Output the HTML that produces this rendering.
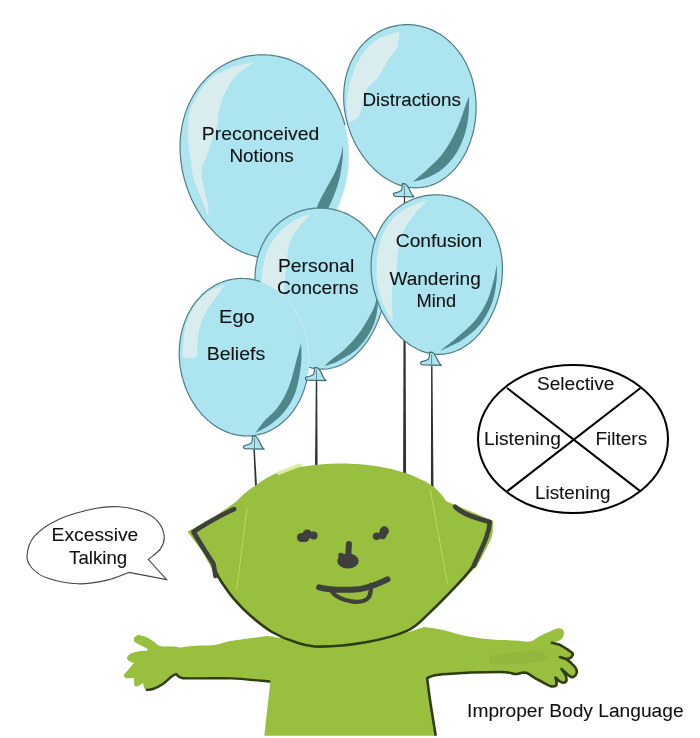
<!DOCTYPE html>
<html><head><meta charset="utf-8"><style>
html,body{margin:0;padding:0;background:#fff;width:700px;height:738px;overflow:hidden}
svg{display:block;will-change:transform}
text{font-family:"Liberation Sans",sans-serif}
</style></head><body>
<svg width="700" height="738" viewBox="0 0 700 738">
<path d="M253.3 447 L254.7 447 L257 486 L255 486 Z" fill="#2B3438"/>
<path d="M315.8 381 L317.2 381 L317.6 466 L315 466 Z" fill="#2B3438"/>
<path d="M403.9 197 L405.1 197 L406.1 476 L403.1 476 Z" fill="#2B3438"/>
<path d="M431.1 366 L432.5 366 L433.5 490 L430.9 490 Z" fill="#2B3438"/>
<path d="M348.5 147 L348.7 150.6 L348.8 154.2 L348.7 157.7 L348.6 161.3 L348.4 164.8 L348.1 168.4 L347.7 171.9 L347.2 175.4 L346.6 178.9 L345.9 182.4 L345.1 185.8 L344.2 189.2 L343.2 192.5 L342.2 195.8 L341 199.1 L339.8 202.3 L338.5 205.4 L337.1 208.5 L335.6 211.6 L334 214.5 L332.4 217.4 L330.7 220.2 L328.9 222.9 L327 225.6 L325.1 228.1 L323.1 230.6 L321.1 233 L319 235.3 L316.8 237.5 L314.6 239.5 L312.3 241.5 L310 243.4 L307.6 245.2 L305.2 246.9 L302.8 248.4 L300.3 249.9 L297.7 251.2 L295.1 252.4 L292.5 253.5 L289.9 254.5 L287.2 255.3 L284.5 256.1 L281.8 256.7 L279.1 257.2 L276.3 257.6 L273.6 257.8 L270.8 257.9 L268 257.9 L265.2 257.8 L262.5 257.6 L259.7 257.2 L256.9 256.7 L254.1 256.1 L251.3 255.4 L248.6 254.5 L245.8 253.5 L243.1 252.4 L240.4 251.2 L237.7 249.9 L235 248.5 L232.4 246.9 L229.8 245.3 L227.3 243.5 L224.7 241.6 L222.3 239.7 L219.8 237.6 L217.4 235.4 L215.1 233.2 L212.8 230.8 L210.6 228.4 L208.4 225.8 L206.3 223.2 L204.2 220.5 L202.2 217.7 L200.3 214.9 L198.5 212 L196.7 209 L195 205.9 L193.4 202.8 L191.9 199.6 L190.4 196.4 L189.1 193.2 L187.8 189.8 L186.6 186.5 L185.5 183.1 L184.5 179.7 L183.6 176.2 L182.8 172.8 L182.1 169.3 L181.5 165.8 L181 162.2 L180.6 158.7 L180.3 155.2 L180.1 151.7 L180.1 148.1 L180.1 144.6 L180.2 141.1 L180.4 137.6 L180.8 134.2 L181.2 130.8 L181.8 127.4 L182.5 124 L183.2 120.7 L184.1 117.4 L185.1 114.1 L186.2 111 L187.4 107.8 L188.7 104.8 L190 101.7 L191.5 98.8 L193.1 95.9 L194.8 93.1 L196.6 90.4 L198.5 87.7 L200.4 85.2 L202.5 82.7 L204.6 80.3 L206.8 78 L209.1 75.8 L211.5 73.7 L213.9 71.7 L216.4 69.8 L219 68 L221.6 66.3 L224.3 64.7 L227.1 63.2 L229.9 61.9 L232.7 60.6 L235.6 59.5 L238.6 58.5 L241.5 57.6 L244.5 56.8 L247.5 56.2 L250.6 55.6 L253.7 55.2 L256.7 55 L259.8 54.8 L262.9 54.8 L266 54.8 L269.1 55.1 L272.2 55.4 L275.2 55.9 L278.3 56.4 L281.3 57.1 L284.3 58 L287.3 58.9 L290.3 60 L293.2 61.2 L296 62.5 L298.9 63.9 L301.6 65.4 L304.4 67.1 L307 68.8 L309.6 70.7 L312.2 72.6 L314.7 74.7 L317.1 76.9 L319.4 79.1 L321.7 81.5 L323.9 84 L326 86.5 L328 89.1 L329.9 91.8 L331.8 94.6 L333.6 97.5 L335.2 100.4 L336.8 103.4 L338.3 106.5 L339.7 109.6 L341 112.8 L342.2 116.1 L343.3 119.4 L344.3 122.7 L345.2 126.1 L346 129.5 L346.7 133 L347.3 136.5 L347.8 140 L348.2 143.5Z" fill="#ACE4F0"/>
<path d="M321.1 233 L319.2 235.1 L317.2 237.1 L315.1 239.1 L313 240.9 L310.9 242.7 L308.8 244.4 L306.5 246 L304.3 247.5 L302 248.9 L299.7 250.2 L297.3 251.4 L295 252.5 L292.6 253.5 L290.1 254.4 L287.7 255.2 L285.2 255.9 L282.7 256.5 L280.2 257 L277.6 257.4 L275.1 257.7 L272.5 257.9 L270 258 L267.4 257.9 L264.8 257.8 L262.3 257.5 L259.7 257.2 L257.1 256.8 L254.6 256.2 L252 255.5 L249.4 254.8 L246.9 253.9 L244.4 253 L241.9 251.9 L239.4 250.8 L236.9 249.5 L234.5 248.2 L232.1 246.7 L229.7 245.2 L227.3 243.5 L225 241.8 L222.7 240 L220.4 238.1 L218.2 236.1 L216 234.1 L213.9 231.9 L211.8 229.7 L209.8 227.4 L207.8 225.1 L205.8 222.6 L204 220.1 L202.1 217.6 L200.4 214.9 L198.7 212.2 L197 209.5 L195.5 206.7 L193.9 203.8 L192.5 200.9 L191.1 198 L189.8 195 L188.6 192 L187.5 188.9 L186.4 185.8 L185.4 182.7 L184.5 179.5 L183.7 176.3 L182.9 173.1 L182.2 169.9 L181.7 166.7 L181.2 163.4 L180.8 160.2 L180.5 156.9 L180.2 153.7 L180.1 150.4 L180 147.2 L180.1 143.9 L180.2 140.7 L180.4 137.5 L180.8 134.3 L181.2 131.1 L181.7 128 L182.3 124.9 L182.9 121.8 L183.7 118.8 L184.6 115.8 L185.5 112.8 L186.6 109.9 L187.7 107 L188.9 104.2 L190.2 101.4 L191.6 98.7 L193.1 96 L194.6 93.4 L196.2 90.9 L198 88.4 L199.7 86.1 L201.6 83.7 L203.5 81.5 L205.5 79.3 L207.6 77.2 L209.7 75.2 L211.9 73.3 L214.2 71.5 L216.5 69.7 L218.9 68.1 L221.3 66.5 L223.8 65 L226.3 63.6 L228.9 62.3 L231.5 61.1 L234.1 60.1 L236.8 59.1 L239.6 58.2 L242.3 57.4 L245.1 56.7 L247.9 56.1 L250.7 55.6 L253.5 55.3 L256.3 55 L259.2 54.8 L262 54.8 L264.9 54.8 L267.7 55 L270.6 55.2 L273.4 55.6 L276.3 56 L279.1 56.6 L281.9 57.3 L284.6 58.1 L287.4 58.9 L290.1 59.9 L292.8 61 L295.4 62.2 L298.1 63.5 L300.6 64.8 L303.2 66.3 L305.6 67.9 L308.1 69.5 L310.5 71.3 L312.8 73.1 L315.1 75.1 L317.3 77.1 L319.5 79.2 L321.5 81.3 L323.6 83.6 L325.5 85.9 L327.4 88.3 L329.2 90.8 L331 93.4 L332.7 96 L334.2 98.6 L335.8 101.4 L337.2 104.2 L338.6 107 L339.8 109.9 L341 112.9 L342.1 115.9 L343.2 118.9 L344.1 122 L345 125.1" fill="none" stroke="#4F7F85" stroke-width="1.2"/>
<path d="M345 125.1 L345.4 127 L345.9 128.9 L346.3 130.9 L346.7 132.8 L347 134.8 L347.3 136.8 L347.6 138.7 L347.9 140.7 L348.1 142.7 L348.3 144.7 L348.5 146.7 L348.6 148.7 L348.7 150.7 L348.7 152.7 L348.8 154.7 L348.8 156.8 L348.7 158.8 L348.6 160.8 L348.5 162.8 L348.4 164.8 L348.2 166.8 L348.1 168.8 L347.8 170.8 L347.6 172.8 L347.3 174.8 L347 176.7 L346.6 178.7 L346.2 180.7 L345.8 182.6 L345.4 184.5 L344.9 186.5 L344.4 188.4 L343.9 190.3 L343.3 192.2 L342.8 194 L342.1 195.9 L341.5 197.7 L340.8 199.6 L340.1 201.4 L339.4 203.2 L338.7 204.9 L337.9 206.7 L337.1 208.4 L336.3 210.2 L335.4 211.8 L334.6 213.5 L333.7 215.2 L332.7 216.8 L331.8 218.4 L330.8 220 L329.8 221.5 L328.8 223.1 L327.8 224.6 L326.7 226 L325.6 227.5 L324.5 228.9 L323.4 230.3 L322.3 231.6 L321.1 233" fill="none" stroke="#C8ECF4" stroke-width="1"/>
<path d="M255 62.1 C251.2 62.9 239.5 64.3 232.1 67.1 C224.7 69.8 216.6 73.6 210.7 78.6 C204.8 83.6 200 91.1 196.4 97.1 C192.8 103 190.7 107.9 189.3 114.3 C187.9 120.7 187.8 128.6 187.9 135.7 C188.1 142.8 189.4 150.4 190.2 157.1 C191 163.8 191.6 170.3 192.9 176 C194.2 181.7 196.3 185.6 198.3 191 C200.3 196.4 203.5 204.3 205.1 208.6 C206.7 212.9 207.4 215.3 207.8 216.7 C207.9 214.9 208.9 211.2 208.1 205.7 C207.3 200.2 204 190.3 203 184 C201.9 177.7 201.3 172.4 201.9 167.9 C202.5 163.4 204.8 161.9 206.6 156.9 C208.4 151.9 210.9 143.3 212.7 137.9 C214.6 132.5 216.6 128.7 217.6 124.4 C218.6 120.2 217.5 117.3 218.6 112.3 C219.8 107.3 221.7 100.5 224.5 94.6 C227.3 88.6 230.3 81.9 235.4 76.5 C240.5 71.1 251.7 64.5 255 62.1Z" fill="#D9ECEE"/>
<path d="M342.8 145.3 C342.8 147.2 343.3 151.5 342.8 156.7 C342.3 161.8 341.4 170.1 340 176.2 C338.6 182.3 336.7 188.1 334.7 193.5 C332.7 198.9 330.5 203.8 328.2 208.6 C325.9 213.3 322.2 219.8 321 222 C320 222 315.6 224.6 315 222 C314.4 219.4 315.3 212.3 317.3 206.5 C319.3 200.7 324 193 327.1 187 C330.2 181 333.4 176.1 335.7 170.7 C338 165.3 340 158.7 341.2 154.5 C342.4 150.3 342.5 146.8 342.8 145.3Z" fill="#4E868B"/>
<path d="M475.5 96.2 L475.8 99.1 L476 102 L476.1 104.8 L476.1 107.7 L476 110.6 L475.9 113.4 L475.7 116.3 L475.4 119.1 L475.1 121.9 L474.6 124.7 L474.1 127.5 L473.6 130.3 L472.9 133 L472.2 135.7 L471.4 138.3 L470.5 140.9 L469.6 143.5 L468.6 146 L467.6 148.5 L466.5 150.9 L465.3 153.3 L464.1 155.6 L462.8 157.8 L461.4 160 L460 162.1 L458.6 164.2 L457 166.2 L455.5 168.1 L453.9 169.9 L452.2 171.6 L450.5 173.3 L448.8 174.9 L447 176.4 L445.2 177.8 L443.3 179.1 L441.4 180.3 L439.5 181.5 L437.6 182.5 L435.6 183.5 L433.5 184.4 L431.5 185.1 L429.4 185.8 L427.4 186.4 L425.3 186.9 L423.1 187.2 L421 187.5 L418.8 187.7 L416.7 187.8 L414.5 187.8 L412.3 187.6 L410.1 187.4 L408 187.1 L405.8 186.7 L403.6 186.2 L401.4 185.6 L399.2 184.9 L397.1 184.1 L394.9 183.2 L392.8 182.2 L390.7 181.2 L388.6 180 L386.5 178.7 L384.4 177.4 L382.4 176 L380.4 174.5 L378.4 172.9 L376.5 171.2 L374.5 169.5 L372.7 167.6 L370.8 165.7 L369 163.8 L367.3 161.7 L365.6 159.6 L363.9 157.4 L362.3 155.2 L360.8 152.9 L359.3 150.6 L357.8 148.2 L356.4 145.7 L355.1 143.2 L353.9 140.7 L352.7 138.1 L351.5 135.5 L350.5 132.8 L349.5 130.1 L348.6 127.4 L347.7 124.7 L347 121.9 L346.3 119.1 L345.7 116.4 L345.1 113.5 L344.7 110.7 L344.3 107.9 L344 105.1 L343.8 102.2 L343.7 99.4 L343.7 96.6 L343.7 93.8 L343.8 91 L344.1 88.3 L344.4 85.5 L344.7 82.8 L345.2 80.1 L345.8 77.4 L346.4 74.8 L347.1 72.2 L348 69.7 L348.9 67.1 L349.8 64.7 L350.9 62.3 L352 59.9 L353.2 57.6 L354.5 55.4 L355.9 53.2 L357.3 51.1 L358.9 49 L360.4 47 L362.1 45.1 L363.8 43.3 L365.6 41.5 L367.4 39.8 L369.3 38.2 L371.3 36.7 L373.3 35.2 L375.4 33.9 L377.5 32.6 L379.6 31.4 L381.8 30.3 L384.1 29.3 L386.3 28.4 L388.6 27.6 L390.9 26.9 L393.3 26.3 L395.7 25.8 L398.1 25.4 L400.5 25 L402.9 24.8 L405.3 24.7 L407.8 24.7 L410.2 24.7 L412.6 24.9 L415.1 25.2 L417.5 25.6 L419.9 26 L422.3 26.6 L424.7 27.3 L427 28 L429.3 28.9 L431.6 29.9 L433.9 30.9 L436.1 32.1 L438.3 33.3 L440.5 34.6 L442.6 36 L444.7 37.5 L446.7 39.1 L448.6 40.8 L450.5 42.5 L452.4 44.4 L454.2 46.3 L455.9 48.3 L457.6 50.3 L459.2 52.4 L460.8 54.6 L462.3 56.9 L463.7 59.2 L465 61.5 L466.3 64 L467.5 66.5 L468.6 69 L469.6 71.6 L470.6 74.2 L471.5 76.8 L472.3 79.5 L473 82.2 L473.7 85 L474.3 87.8 L474.8 90.6 L475.2 93.4Z" fill="#ACE4F0" stroke="#4F7F85" stroke-width="1.2"/>
<path d="M399.6 31.2 C395.9 32.6 383.4 35.5 377.2 39.4 C371 43.2 366.3 48.8 362.3 54.3 C358.3 59.8 355.9 65.4 353.4 72.1 C350.9 78.8 348.4 87 347.4 94.5 C346.4 102 347.1 112.1 347.4 116.8 C347.7 121.5 348.7 121.8 349 122.8 C350.4 122 355.3 119.8 357.2 118.1 C359.1 116.4 359.3 116.8 360.6 112.4 C361.9 108 362.4 97.7 365.3 91.9 C368.1 86.1 374.3 82.4 377.8 77.6 C381.3 72.8 383 68.1 386.2 63.2 C389.4 58.3 395.1 51.4 397.1 48.1 C399.1 44.7 398 46.1 398.4 43.2 C398.8 40.4 399.4 33.2 399.6 31.2Z" fill="#D9ECEE"/>
<path d="M469.2 96.4 C469.1 99.6 469.2 109.2 468.5 115.3 C467.8 121.4 467 126.9 465.1 133 C463.2 139.1 460.6 146.1 457 152 C453.4 157.9 448.4 163.9 443.4 168.2 C438.4 172.5 432.2 175.4 427.1 177.7 C422 180 415.3 181.1 412.9 181.8 C415.3 179.8 422.5 173.9 427.1 169.6 C431.7 165.3 436.6 161 440.7 156 C444.8 151 448.3 145.3 451.5 139.7 C454.7 134 457.2 128.2 459.7 122.1 C462.2 116 464.8 107.4 466.4 103.1 C468 98.8 468.7 97.5 469.2 96.4Z" fill="#4E868B"/>
<path d="M-1.5 0 C-1.5 3 -1.8 5.5 -2.5 6.8 C-4 9 -9 8.8 -10.3 10 C-11 11.5 -10 12.6 -8.5 12.7 L10.2 13.2 C9 12 7.5 11 6.8 8.5 C5.5 5.5 4 2 1.5 0.3 Z" transform="translate(403.9 183.6) scale(1.0)" fill="#ACE4F0" stroke="#3E6C72" stroke-width="1.2" stroke-linejoin="round"/><path d="M404.4 185.6 L404.4 196.6" stroke="#5E8288" stroke-width="0.9"/>
<path d="M385.7 286.1 L385.5 288.9 L385.2 291.7 L384.9 294.6 L384.5 297.4 L384 300.2 L383.5 303 L382.9 305.7 L382.2 308.5 L381.4 311.2 L380.6 313.9 L379.7 316.5 L378.7 319.2 L377.7 321.8 L376.6 324.3 L375.5 326.8 L374.3 329.3 L373.1 331.7 L371.8 334 L370.4 336.3 L369.1 338.6 L367.6 340.8 L366.1 342.9 L364.6 344.9 L363 346.9 L361.4 348.8 L359.8 350.7 L358.1 352.4 L356.4 354.1 L354.6 355.7 L352.9 357.2 L351.1 358.7 L349.2 360 L347.4 361.3 L345.5 362.4 L343.6 363.5 L341.7 364.5 L339.8 365.4 L337.8 366.2 L335.8 366.9 L333.8 367.5 L331.9 368 L329.9 368.5 L327.8 368.8 L325.8 369 L323.8 369.1 L321.8 369.2 L319.7 369.1 L317.7 368.9 L315.7 368.7 L313.6 368.3 L311.6 367.8 L309.6 367.3 L307.6 366.6 L305.6 365.9 L303.6 365.1 L301.6 364.1 L299.7 363.1 L297.7 362 L295.8 360.8 L293.9 359.5 L292 358.1 L290.1 356.6 L288.3 355.1 L286.5 353.5 L284.7 351.8 L283 350 L281.2 348.1 L279.6 346.2 L277.9 344.2 L276.3 342.2 L274.8 340 L273.2 337.8 L271.8 335.6 L270.4 333.3 L269 330.9 L267.7 328.5 L266.4 326 L265.2 323.5 L264 321 L262.9 318.4 L261.9 315.8 L260.9 313.1 L260 310.4 L259.2 307.7 L258.4 305 L257.8 302.2 L257.1 299.5 L256.6 296.7 L256.1 293.9 L255.7 291.1 L255.4 288.3 L255.2 285.5 L255.1 282.7 L255 279.9 L255 277.1 L255.1 274.3 L255.3 271.6 L255.6 268.9 L255.9 266.2 L256.4 263.5 L256.9 260.8 L257.5 258.2 L258.3 255.6 L259 253.1 L259.9 250.6 L260.9 248.2 L261.9 245.8 L263.1 243.4 L264.3 241.1 L265.6 238.9 L266.9 236.7 L268.4 234.6 L269.9 232.5 L271.5 230.5 L273.2 228.6 L274.9 226.8 L276.7 225 L278.6 223.3 L280.6 221.7 L282.6 220.2 L284.6 218.8 L286.7 217.4 L288.9 216.1 L291.1 215 L293.4 213.9 L295.7 212.9 L298 211.9 L300.4 211.1 L302.8 210.4 L305.2 209.8 L307.6 209.2 L310.1 208.8 L312.6 208.4 L315.1 208.2 L317.6 208.1 L320.1 208 L322.6 208.1 L325.1 208.2 L327.6 208.5 L330.1 208.8 L332.6 209.2 L335 209.8 L337.5 210.4 L339.9 211.2 L342.2 212 L344.6 212.9 L346.9 213.9 L349.1 215 L351.3 216.2 L353.5 217.5 L355.6 218.9 L357.6 220.3 L359.6 221.8 L361.6 223.5 L363.5 225.2 L365.3 226.9 L367 228.8 L368.7 230.7 L370.3 232.7 L371.9 234.8 L373.3 236.9 L374.7 239.1 L376 241.4 L377.2 243.7 L378.4 246.1 L379.5 248.5 L380.4 250.9 L381.3 253.5 L382.2 256 L382.9 258.6 L383.5 261.3 L384.1 263.9 L384.6 266.6 L385 269.4 L385.3 272.1 L385.5 274.9 L385.7 277.7 L385.8 280.5 L385.7 283.3Z" fill="#ACE4F0" stroke="#4F7F85" stroke-width="1.2"/>
<path d="M311.1 213.9 C308.5 214.8 301 216.5 295.7 219.6 C290.4 222.7 284 227.7 279.4 232.6 C274.8 237.5 270.7 243.2 268 248.9 C265.3 254.6 264.2 261.3 263.1 266.8 C262 272.3 261.5 276.5 261.5 282 C261.5 287.5 261.9 295 263 300 C264.1 305 267.2 310 268 312 C270.2 309.9 278.7 304.5 281.4 299.4 C284.2 294.3 283.9 287 284.7 281.6 C285.5 276.3 285.4 274 286.3 267.3 C287.1 260.7 287.7 248.5 289.9 241.8 C292.1 235 295.8 231.3 299.3 226.7 C302.8 222 309.1 216 311.1 213.9Z" fill="#D9ECEE"/>
<path d="M377.5 290 C377.5 292.9 378.2 301.7 377.6 307.3 C377 312.9 376 318.2 374.1 323.4 C372.2 328.6 369.3 333.8 366 338.4 C362.7 343 359.3 347.2 354.5 351 C349.7 354.8 342.3 358.9 337.3 361.4 C332.3 363.9 326.7 365.2 324.6 366 C325.7 365 327.9 362.6 331.3 359.8 C334.7 357 340.3 353.5 344.8 349.2 C349.3 344.9 354.5 339.1 358.2 334.2 C362 329.3 364.7 324.7 367.5 319.9 C370.3 315 373.3 310 375 305 C376.6 300.1 377.1 292.5 377.5 290Z" fill="#4E868B"/>
<path d="M502.4 271.2 L502.3 274 L502.1 276.8 L501.9 279.6 L501.6 282.3 L501.2 285.1 L500.7 287.9 L500.1 290.6 L499.5 293.4 L498.8 296.1 L498.1 298.7 L497.2 301.4 L496.3 304 L495.4 306.6 L494.3 309.1 L493.3 311.6 L492.1 314.1 L490.9 316.5 L489.7 318.8 L488.3 321.1 L487 323.4 L485.6 325.5 L484.1 327.6 L482.6 329.7 L481 331.7 L479.5 333.6 L477.8 335.4 L476.1 337.2 L474.4 338.9 L472.7 340.5 L470.9 342 L469.1 343.5 L467.2 344.8 L465.3 346.1 L463.4 347.3 L461.5 348.4 L459.6 349.4 L457.6 350.3 L455.6 351.2 L453.6 351.9 L451.6 352.5 L449.5 353.1 L447.5 353.5 L445.4 353.9 L443.4 354.1 L441.3 354.3 L439.2 354.4 L437.1 354.3 L435 354.2 L432.9 353.9 L430.9 353.6 L428.8 353.2 L426.7 352.7 L424.6 352.1 L422.6 351.4 L420.5 350.6 L418.5 349.7 L416.5 348.7 L414.5 347.6 L412.5 346.4 L410.6 345.2 L408.6 343.9 L406.7 342.4 L404.8 340.9 L403 339.4 L401.1 337.7 L399.4 336 L397.6 334.2 L395.9 332.3 L394.2 330.3 L392.6 328.3 L391 326.2 L389.5 324.1 L388 321.9 L386.5 319.6 L385.1 317.3 L383.8 314.9 L382.5 312.5 L381.3 310 L380.1 307.5 L379 305 L378 302.4 L377 299.8 L376.1 297.1 L375.3 294.5 L374.5 291.8 L373.8 289 L373.2 286.3 L372.6 283.6 L372.2 280.8 L371.8 278 L371.5 275.3 L371.3 272.5 L371.1 269.7 L371.1 266.9 L371.1 264.2 L371.2 261.4 L371.4 258.7 L371.6 256 L372 253.3 L372.5 250.7 L373 248 L373.6 245.4 L374.3 242.9 L375.1 240.3 L376 237.8 L376.9 235.4 L378 233 L379.1 230.7 L380.3 228.4 L381.6 226.1 L382.9 224 L384.3 221.9 L385.9 219.8 L387.4 217.8 L389.1 215.9 L390.8 214.1 L392.6 212.3 L394.5 210.6 L396.4 209 L398.3 207.4 L400.4 206 L402.5 204.6 L404.6 203.3 L406.8 202.1 L409 201 L411.3 200 L413.6 199 L415.9 198.2 L418.3 197.4 L420.7 196.8 L423.1 196.2 L425.5 195.7 L428 195.4 L430.4 195.1 L432.9 194.9 L435.4 194.8 L437.9 194.8 L440.4 195 L442.8 195.2 L445.3 195.5 L447.8 195.9 L450.2 196.4 L452.6 197 L455 197.7 L457.4 198.4 L459.7 199.3 L462 200.3 L464.2 201.4 L466.5 202.5 L468.6 203.7 L470.8 205.1 L472.8 206.5 L474.8 208 L476.8 209.5 L478.7 211.2 L480.6 212.9 L482.3 214.7 L484.1 216.6 L485.7 218.6 L487.3 220.6 L488.8 222.7 L490.2 224.8 L491.6 227.1 L492.9 229.3 L494.1 231.7 L495.2 234 L496.2 236.5 L497.2 238.9 L498.1 241.5 L498.9 244 L499.6 246.6 L500.3 249.3 L500.8 251.9 L501.3 254.6 L501.7 257.3 L502 260.1 L502.2 262.8 L502.4 265.6 L502.4 268.4Z" fill="#ACE4F0" stroke="#4F7F85" stroke-width="1.2"/>
<path d="M428.7 199.7 C424.9 201.1 412.5 204.3 405.9 208.3 C399.3 212.3 393.3 217.5 388.9 223.5 C384.5 229.5 381.5 236.4 379.4 244.3 C377.3 252.2 376.5 262.7 376.5 270.9 C376.5 279.1 377.3 286.1 379.4 293.7 C381.5 301.3 386.7 311.7 388.9 316.4 C391.1 321.1 392.1 321.2 392.7 322.1 C392.6 316.7 391.4 298.3 392 289.7 C392.6 281.2 395.3 277.3 396.4 270.7 C397.4 264.1 397.1 256.6 398.3 250.2 C399.4 243.7 400.2 238.3 403.1 232.1 C406 225.8 411.4 218.1 415.7 212.7 C419.9 207.3 426.5 201.9 428.7 199.7Z" fill="#D9ECEE"/>
<path d="M496.6 264.1 C496.6 266.8 497.4 273.8 496.6 280.3 C495.8 286.8 494.7 295.9 491.9 303.3 C489.1 310.8 484.7 318.9 479.7 325 C474.7 331.1 468.7 335.6 462.1 339.9 C455.6 344.2 444 348.9 440.4 350.7 C443.3 348.4 452 341.8 457.8 336.8 C463.6 331.8 470.2 326.6 475.1 320.6 C480.1 314.6 484.1 307.7 487.3 300.6 C490.6 293.4 492.9 283.6 494.4 277.6 C495.9 271.5 496.2 266.3 496.6 264.1Z" fill="#4E868B"/>
<path d="M308.5 350.4 L308.8 353.2 L308.9 355.9 L309 358.7 L309 361.4 L308.9 364.2 L308.7 366.9 L308.5 369.6 L308.1 372.3 L307.7 375 L307.3 377.7 L306.7 380.3 L306.1 383 L305.4 385.5 L304.6 388.1 L303.7 390.6 L302.8 393.1 L301.8 395.5 L300.8 397.9 L299.6 400.2 L298.4 402.5 L297.2 404.7 L295.9 406.9 L294.5 409 L293 411 L291.5 413 L290 414.9 L288.4 416.7 L286.7 418.5 L285 420.2 L283.2 421.8 L281.4 423.3 L279.5 424.8 L277.6 426.2 L275.7 427.4 L273.7 428.6 L271.7 429.8 L269.7 430.8 L267.6 431.7 L265.5 432.6 L263.4 433.3 L261.2 434 L259.1 434.5 L256.9 435 L254.7 435.4 L252.4 435.7 L250.2 435.9 L248 435.9 L245.7 435.9 L243.5 435.8 L241.3 435.6 L239 435.3 L236.8 435 L234.6 434.5 L232.4 433.9 L230.2 433.2 L228 432.5 L225.8 431.6 L223.7 430.7 L221.6 429.6 L219.5 428.5 L217.4 427.3 L215.4 426 L213.4 424.6 L211.4 423.2 L209.5 421.6 L207.6 420 L205.8 418.3 L204 416.5 L202.3 414.7 L200.6 412.8 L198.9 410.8 L197.3 408.8 L195.8 406.7 L194.3 404.5 L192.9 402.3 L191.6 400 L190.3 397.6 L189 395.3 L187.9 392.8 L186.8 390.4 L185.8 387.9 L184.8 385.3 L183.9 382.7 L183.1 380.1 L182.4 377.5 L181.7 374.8 L181.1 372.1 L180.6 369.4 L180.2 366.7 L179.9 364 L179.6 361.2 L179.4 358.5 L179.3 355.7 L179.2 353 L179.3 350.2 L179.4 347.5 L179.6 344.8 L179.9 342.1 L180.2 339.4 L180.7 336.7 L181.2 334.1 L181.8 331.5 L182.5 328.9 L183.2 326.4 L184 323.9 L184.9 321.4 L185.9 319 L187 316.6 L188.1 314.3 L189.3 312 L190.5 309.8 L191.8 307.6 L193.2 305.5 L194.7 303.4 L196.2 301.5 L197.7 299.6 L199.4 297.7 L201.1 296 L202.8 294.3 L204.6 292.7 L206.4 291.1 L208.3 289.7 L210.2 288.3 L212.2 287 L214.2 285.8 L216.3 284.7 L218.3 283.7 L220.5 282.7 L222.6 281.9 L224.8 281.1 L227 280.4 L229.2 279.9 L231.4 279.4 L233.7 279 L236 278.7 L238.2 278.5 L240.5 278.4 L242.8 278.4 L245.1 278.5 L247.4 278.7 L249.7 279 L251.9 279.4 L254.2 279.9 L256.4 280.5 L258.7 281.1 L260.9 281.9 L263.1 282.7 L265.3 283.7 L267.4 284.7 L269.5 285.8 L271.6 287 L273.7 288.3 L275.7 289.7 L277.7 291.2 L279.6 292.7 L281.5 294.3 L283.3 296 L285.1 297.8 L286.9 299.6 L288.5 301.5 L290.2 303.5 L291.7 305.6 L293.3 307.7 L294.7 309.8 L296.1 312.1 L297.4 314.4 L298.7 316.7 L299.9 319.1 L301 321.5 L302.1 324 L303.1 326.5 L304 329.1 L304.8 331.6 L305.6 334.3 L306.3 336.9 L306.9 339.6 L307.4 342.3 L307.9 345 L308.2 347.7Z" fill="#ACE4F0"/>
<path d="M306.8 379.8 L306.3 382.1 L305.7 384.3 L305.1 386.4 L304.4 388.6 L303.7 390.7 L302.9 392.8 L302.1 394.9 L301.2 396.9 L300.3 398.9 L299.3 400.9 L298.3 402.8 L297.2 404.7 L296.1 406.5 L294.9 408.3 L293.7 410.1 L292.5 411.8 L291.2 413.5 L289.8 415.1 L288.5 416.6 L287.1 418.1 L285.6 419.6 L284.1 421 L282.6 422.3 L281.1 423.6 L279.5 424.8 L277.9 426 L276.2 427.1 L274.6 428.1 L272.9 429.1 L271.2 430 L269.4 430.9 L267.7 431.7 L265.9 432.4 L264.1 433.1 L262.3 433.7 L260.4 434.2 L258.6 434.6 L256.7 435 L254.9 435.4 L253 435.6 L251.1 435.8 L249.2 435.9 L247.3 436 L245.4 435.9 L243.5 435.8 L241.6 435.7 L239.7 435.4 L237.8 435.1 L235.9 434.8 L234 434.3 L232.1 433.8 L230.3 433.3 L228.4 432.6 L226.6 431.9 L224.8 431.1 L222.9 430.3 L221.2 429.4 L219.4 428.5 L217.6 427.4 L215.9 426.3 L214.2 425.2 L212.5 424 L210.9 422.7 L209.2 421.4 L207.6 420 L206.1 418.6 L204.6 417.1 L203.1 415.6 L201.6 414 L200.2 412.3 L198.8 410.6 L197.4 408.9 L196.1 407.1 L194.9 405.3 L193.6 403.4 L192.5 401.5 L191.3 399.6 L190.2 397.6 L189.2 395.6 L188.2 393.5 L187.2 391.4 L186.3 389.3 L185.5 387.2 L184.7 385 L184 382.8 L183.3 380.6 L182.6 378.4 L182 376.1 L181.5 373.8 L181 371.5 L180.6 369.2 L180.2 366.9 L179.9 364.6 L179.7 362.3 L179.5 360 L179.3 357.6 L179.3 355.3 L179.2 353 L179.3 350.6 L179.4 348.3 L179.5 346 L179.7 343.7 L180 341.4 L180.3 339.1 L180.7 336.9 L181.1 334.6 L181.6 332.4 L182.1 330.2 L182.7 328 L183.4 325.9 L184.1 323.7 L184.8 321.6 L185.7 319.6 L186.5 317.5 L187.4 315.6 L188.4 313.6 L189.4 311.7 L190.5 309.8 L191.6 307.9 L192.8 306.1 L194 304.4 L195.2 302.7 L196.5 301 L197.9 299.4 L199.3 297.9 L200.7 296.3 L202.1 294.9 L203.6 293.5 L205.2 292.1 L206.7 290.9 L208.4 289.6 L210 288.5 L211.7 287.4 L213.4 286.3 L215.1 285.3 L216.8 284.4 L218.6 283.5 L220.4 282.7 L222.2 282 L224.1 281.4 L225.9 280.8 L227.8 280.2 L229.7 279.8 L231.6 279.4 L233.5 279 L235.4 278.8 L237.3 278.6 L239.3 278.5 L241.2 278.4 L243.2 278.5 L245.1 278.5 L247 278.7 L249 278.9 L250.9 279.2 L252.8 279.6 L254.8 280 L256.7 280.5 L258.6 281.1 L260.5 281.7" fill="none" stroke="#4F7F85" stroke-width="1.2"/>
<path d="M260.5 281.7 L262.1 282.4 L263.8 283 L265.5 283.8 L267.1 284.6 L268.7 285.4 L270.3 286.3 L271.9 287.2 L273.5 288.2 L275 289.2 L276.5 290.3 L278 291.5 L279.5 292.6 L280.9 293.9 L282.4 295.1 L283.8 296.4 L285.1 297.8 L286.4 299.2 L287.8 300.6 L289 302.1 L290.3 303.6 L291.5 305.2 L292.6 306.8 L293.8 308.4 L294.9 310.1 L295.9 311.8 L297 313.5 L297.9 315.3 L298.9 317.1 L299.8 318.9 L300.7 320.7 L301.5 322.6 L302.3 324.5 L303 326.4 L303.7 328.4 L304.4 330.3 L305 332.3 L305.6 334.3 L306.1 336.3 L306.6 338.4 L307 340.4 L307.4 342.5 L307.8 344.5 L308.1 346.6 L308.4 348.7 L308.6 350.8 L308.7 352.9 L308.9 355 L309 357.1 L309 359.2 L309 361.3 L308.9 363.4 L308.8 365.4 L308.7 367.5 L308.5 369.6 L308.2 371.7 L307.9 373.7 L307.6 375.8 L307.2 377.8 L306.8 379.8" fill="none" stroke="#C8ECF4" stroke-width="1"/>
<path d="M224.8 284.8 C222.3 285.8 214.4 288.1 209.9 290.9 C205.4 293.7 201.1 297.6 197.7 301.7 C194.3 305.8 191.8 310.1 189.5 315.3 C187.2 320.5 185.2 326.3 184.1 332.9 C183 339.4 182.9 350.5 182.8 354.6 C182.7 358.7 183.4 357 183.5 357.5 C185.6 357.5 193.8 360 196.2 357.3 C198.5 354.5 196.9 346.2 197.6 341.1 C198.2 335.9 198.9 331.1 200.2 326.5 C201.5 321.8 203 317.7 205.4 313.2 C207.7 308.7 211.2 304.4 214.5 299.6 C217.7 294.9 223.1 287.3 224.8 284.8Z" fill="#D9ECEE"/>
<path d="M301.1 343.1 C301.1 346.5 302 355.5 301.1 363.6 C300.2 371.7 298.5 383.8 295.6 391.9 C292.7 400 288.2 406.8 283.9 412.3 C279.6 417.8 274.4 421.5 269.7 424.9 C265 428.3 257.9 431.4 255.6 432.7 C257.1 430.7 260.7 425.1 264.5 420.8 C268.2 416.5 274 412.5 278 406.9 C282.1 401.2 285.8 394.7 288.8 387 C291.9 379.2 294.4 367.7 296.4 360.4 C298.5 353.1 300.3 346 301.1 343.1Z" fill="#4E868B"/>
<path d="M-1.5 0 C-1.5 3 -1.8 5.5 -2.5 6.8 C-4 9 -9 8.8 -10.3 10 C-11 11.5 -10 12.6 -8.5 12.7 L10.2 13.2 C9 12 7.5 11 6.8 8.5 C5.5 5.5 4 2 1.5 0.3 Z" transform="translate(316 367.5) scale(1.0)" fill="#ACE4F0" stroke="#3E6C72" stroke-width="1.2" stroke-linejoin="round"/><path d="M316.5 369.5 L316.5 380.5" stroke="#5E8288" stroke-width="0.9"/>
<path d="M-1.5 0 C-1.5 3 -1.8 5.5 -2.5 6.8 C-4 9 -9 8.8 -10.3 10 C-11 11.5 -10 12.6 -8.5 12.7 L10.2 13.2 C9 12 7.5 11 6.8 8.5 C5.5 5.5 4 2 1.5 0.3 Z" transform="translate(431.1 352.1) scale(1.0)" fill="#ACE4F0" stroke="#3E6C72" stroke-width="1.2" stroke-linejoin="round"/><path d="M431.6 354.1 L431.6 365.1" stroke="#5E8288" stroke-width="0.9"/>
<path d="M-1.5 0 C-1.5 3 -1.8 5.5 -2.5 6.8 C-4 9 -9 8.8 -10.3 10 C-11 11.5 -10 12.6 -8.5 12.7 L10.2 13.2 C9 12 7.5 11 6.8 8.5 C5.5 5.5 4 2 1.5 0.3 Z" transform="translate(254 436) scale(1.0)" fill="#ACE4F0" stroke="#3E6C72" stroke-width="1.2" stroke-linejoin="round"/><path d="M254.5 438 L254.5 449" stroke="#5E8288" stroke-width="0.9"/>
<g font-family="Liberation Sans, sans-serif">
<text x="201.8" y="139.6" font-size="19.0" textLength="117.45" lengthAdjust="spacingAndGlyphs" fill="#111" stroke="#000" stroke-width="0.08">Preconceived</text>
<text x="229.4" y="161.6" font-size="19.0" textLength="64.25" lengthAdjust="spacingAndGlyphs" fill="#111" stroke="#000" stroke-width="0.08">Notions</text>
<text x="362.5" y="106" font-size="19.0" textLength="98.31" lengthAdjust="spacingAndGlyphs" fill="#111" stroke="#000" stroke-width="0.08">Distractions</text>
<text x="277.9" y="271.7" font-size="19.0" textLength="76.38" lengthAdjust="spacingAndGlyphs" fill="#111" stroke="#000" stroke-width="0.08">Personal</text>
<text x="277" y="293.5" font-size="19.0" textLength="81.64" lengthAdjust="spacingAndGlyphs" fill="#111" stroke="#000" stroke-width="0.08">Concerns</text>
<text x="395.8" y="246.7" font-size="19.0" textLength="86.41" lengthAdjust="spacingAndGlyphs" fill="#111" stroke="#000" stroke-width="0.08">Confusion</text>
<text x="389.5" y="284.8" font-size="19.0" textLength="91.21" lengthAdjust="spacingAndGlyphs" fill="#111" stroke="#000" stroke-width="0.08">Wandering</text>
<text x="416.5" y="306.5" font-size="19.0" textLength="39.66" lengthAdjust="spacingAndGlyphs" fill="#111" stroke="#000" stroke-width="0.08">Mind</text>
<text x="219.1" y="322.5" font-size="19.0" textLength="35.56" lengthAdjust="spacingAndGlyphs" fill="#111" stroke="#000" stroke-width="0.08">Ego</text>
<text x="206.7" y="359.6" font-size="19.0" textLength="58.49" lengthAdjust="spacingAndGlyphs" fill="#111" stroke="#000" stroke-width="0.08">Beliefs</text>
</g>
<path d="M134 638 C134.7 637.5 136 635.2 138 635 C140 634.8 143.5 636 146 637 C148.5 638 151 639.7 153 641 C155 642.3 156.3 644.1 158 645 C159.7 645.9 160.3 646.2 163 646.5 C165.7 646.8 171.2 646.3 174 646.5 C176.8 646.7 177.7 647.5 180 647.5 C182.3 647.5 184.7 646.8 188 646.5 C191.3 646.2 195.5 645.9 200 645.6 C204.5 645.4 209.7 645.8 215 645 C220.3 644.2 223.3 642.3 232 640.8 C240.7 639.3 261.3 636.8 267.2 636 C272.7 636.7 286.2 639.3 300 640 C313.8 640.7 333.3 641 350 640 C366.7 639 387.6 636.1 400 634 C412.4 631.9 420.2 628.2 424.3 627.1 C427.4 627.6 436.2 628.6 442.9 630 C449.6 631.4 456.4 634.2 464.3 635.7 C472.2 637.2 481.6 638.5 490 639.3 C498.4 640.1 508.3 640.1 515 640.5 C521.7 640.9 525.8 642.2 530 641.5 C534.2 640.8 536.7 637.7 540 636 C543.3 634.3 547.2 632.8 550 631.5 C552.8 630.2 555 628.9 557 628.5 C559 628.1 560.8 628.2 562 629 C563.2 629.8 564 631.4 564 633 C564 634.6 563.2 637.1 562 638.5 C560.8 639.9 558.8 640.8 557 641.5 C555.2 642.2 552 642.3 551 642.5 C552.4 642.9 556.9 643.6 559.6 644.7 C562.3 645.8 564.9 647.8 567 649.2 C569.1 650.6 571.4 651.9 572.3 652.9 C573.2 653.9 573 654.2 572.6 655.1 C572.2 656 571.3 657.5 570 658.1 C568.7 658.7 566.5 659 564.8 658.8 C563.1 658.6 560.8 657.3 560 657 C561.2 657.4 565 658.4 567 659.6 C569 660.8 570.8 662.6 572.3 664.1 C573.8 665.6 575.3 667 576 668.5 C576.7 670 577.1 671.6 576.7 673 C576.3 674.4 574.8 676.1 573.7 676.7 C572.6 677.3 572 677.7 570 676.4 C568 675.1 562.9 670.2 561.5 669 C562 669.8 564 672.3 564.8 673.7 C565.6 675.1 566 676.2 566.3 677.5 C566.5 678.8 566.8 680.3 566.3 681.2 C565.8 682.1 564.4 682.7 563.3 682.7 C562.2 682.7 560.9 682.1 559.6 681.2 C558.3 680.3 556.2 678.1 555.5 677.5 C555.7 678.4 556.5 681.3 556.6 682.7 C556.7 684.1 556.8 685.1 555.9 685.7 C555 686.3 553 686.6 551.4 686.4 C549.8 686.1 548.2 685.2 546.2 684.2 C544.2 683.2 541.4 681.5 539.5 680.5 C537.6 679.5 537.1 679.5 535 678.2 C532.9 677 529.3 673.9 527 673 C524.7 672.1 523 672.8 521 673 C519 673.2 518.5 674.2 515 674 C511.5 673.8 512 672 500 672 C488 672 455 673.3 442.9 674.3 C430.8 675.3 429.7 677.3 427.1 677.9 C427.6 681.6 428.6 690.4 430 700 C431.4 709.6 434.8 729.8 435.7 735.7 L264.3 735.7 L270.4 681.6 C264 681.1 243.7 678.9 232 678.4 C220.3 677.9 207.3 678.5 200 678.4 C192.7 678.3 191 678.1 188 678 C185 677.9 183.7 678.3 182 678 C180.3 677.7 179 676.7 178 676 C177 675.3 176.3 674.3 176 674 C175.2 674.5 173.2 675.3 171 677 C168.8 678.7 166 682 163 684 C160 686 155.8 688 153 689 C150.2 690 147.5 690.3 146 690 C144.5 689.7 144.5 688.2 144 687 C143.5 685.8 143.2 683.7 143 683 C142.2 683.5 139.3 685.5 138 686 C136.7 686.5 135.7 686.7 135 686 C134.3 685.3 134.2 683.3 134 682 C133.8 680.7 134 678.7 134 678 C132.7 678 127.7 678.5 126 678 C124.3 677.5 123.7 676.3 124 675 C124.3 673.7 126.3 672 128 670 C129.7 668 133 664.2 134 663 C133.2 662.7 130.2 661.8 129 661 C127.8 660.2 126.8 659.2 127 658 C127.2 656.8 128.2 655.1 130 654 C131.8 652.9 135 652.1 138 651.5 C141 650.9 146.3 650.7 148 650.5 C147.7 650.1 147.7 649.1 146 648 C144.3 646.9 140 645.2 138 644 C136 642.8 134.7 642 134 641 C133.3 640 134 638.5 134 638Z" fill="#98BF3E"/>
<path d="M489 657 C505 653 525 650 542 651 L548 660 C532 664 508 665 489 664 Z" fill="#8AAE3A" opacity="0.45"/>
<path d="M146 690 C147.2 689.8 150.2 690 153 689 C155.8 688 160 686 163 684 C166 682 168.8 678.7 171 677 C173.2 675.3 175.2 674.5 176 674 C177 674.7 178 677.3 182 678 C186 678.7 191.7 678.3 200 678.4 C208.3 678.5 220.3 677.9 232 678.4 C243.7 678.9 264 681.1 270.4 681.6" fill="none" stroke="#2F3D14" stroke-width="2.4" stroke-linejoin="round"/>
<path d="M551 642.5 C552.4 642.9 556.9 643.6 559.6 644.7 C562.3 645.8 564.9 647.8 567 649.2 C569.1 650.6 571.4 651.9 572.3 652.9 C573.2 653.9 573 654.2 572.6 655.1 C572.2 656 571.3 657.5 570 658.1 C568.7 658.7 566.5 659 564.8 658.8 C563.1 658.6 560.8 657.3 560 657 C561.2 657.4 565 658.4 567 659.6 C569 660.8 570.8 662.6 572.3 664.1 C573.8 665.6 575.3 667 576 668.5 C576.7 670 577.1 671.6 576.7 673 C576.3 674.4 574.8 676.1 573.7 676.7 C572.6 677.3 572 677.7 570 676.4 C568 675.1 562.9 670.2 561.5 669 C562 669.8 564 672.3 564.8 673.7 C565.6 675.1 566 676.2 566.3 677.5 C566.5 678.8 566.8 680.3 566.3 681.2 C565.8 682.1 564.4 682.7 563.3 682.7 C562.2 682.7 560.9 682.1 559.6 681.2 C558.3 680.3 556.2 678.1 555.5 677.5 C555.7 678.4 556.5 681.3 556.6 682.7 C556.7 684.1 556.8 685.1 555.9 685.7 C555 686.3 553 686.6 551.4 686.4 C549.8 686.1 548.2 685.2 546.2 684.2 C544.2 683.2 541.4 681.5 539.5 680.5 C537.6 679.5 537.1 679.5 535 678.2 C532.9 677 529.3 673.9 527 673 C524.7 672.1 523 672.8 521 673 C519 673.2 518.5 674.2 515 674 C511.5 673.8 512 672 500 672 C488 672 455 673.3 442.9 674.3 C430.8 675.3 429.7 677.3 427.1 677.9 C427.6 681.6 428.6 690.4 430 700 C431.4 709.6 434.8 729.8 435.7 735.7" fill="none" stroke="#2F3D14" stroke-width="2.6" stroke-linejoin="round"/>
<path d="M187.5 531.5 C192 529 206.3 521.3 214.3 516.4 C222.3 511.5 232.1 504.5 235.7 502.1 C238.1 500 242.8 494.3 250 489.3 C257.1 484.3 269.1 475.9 278.6 472 C288.1 468.1 296.5 467.3 307 465.9 C317.5 464.5 329.5 463.5 341.4 463.6 C353.3 463.7 367.7 464.7 378.6 466.4 C389.5 468.1 397.9 470.3 407 473.6 C416.1 476.9 426.4 481.8 433 486.4 C439.6 491 444.4 498.9 446.7 501.4 L493 520.7 C492.8 523.2 493.3 531 492 536 C490.7 541 487.5 546 485 551 C482.5 556 478.3 563.5 477 566 C472.9 570 460.5 581.9 452.6 589.7 C444.7 597.5 437.3 605.7 429.7 612.6 C422.1 619.5 417.6 626 406.9 630.9 C396.2 635.8 380.2 639.7 365.7 642.3 C351.2 644.9 331.6 646.6 320 646.6 C308.4 646.6 304 644.7 296 642.3 C288 639.9 279.4 636.3 272 632 C264.6 627.7 257.7 622 251.4 616.6 C245.1 611.2 239.4 605.4 234.3 599.4 C229.2 593.4 223.7 584.5 220.6 580.6 C217.5 576.7 216.8 576.8 216 576 C213.8 572.2 206.8 559.2 203 553 C199.2 546.8 195.6 542.6 193 539 C190.4 535.4 188.4 532.8 187.5 531.5Z" fill="#98BF3E"/>
<path d="M275 473 L299 463.2 L303 465.5 L279 475 Z" fill="#D6F0A0"/>
<path d="M216 572 C216.8 573.4 217.5 576 220.6 580.6 C223.7 585.2 229.2 593.4 234.3 599.4 C239.4 605.4 245.1 611.2 251.4 616.6 C257.7 622 264.6 627.7 272 632 C279.4 636.3 288 639.9 296 642.3 C304 644.7 308.4 646.6 320 646.6 C331.6 646.6 351.2 644.9 365.7 642.3 C380.2 639.7 396.2 635.8 406.9 630.9 C417.6 626 422.1 619.5 429.7 612.6 C437.3 605.7 445.7 597 452.6 589.7 C459.5 582.5 466.7 574.7 470.9 569.1 C475.1 563.5 476.8 558.2 478 556" fill="none" stroke="#2F3D14" stroke-width="2.6"/>
<path d="M247 508 L236.6 590 M430.3 489.7 L447.4 583.4" stroke="#C8E870" stroke-width="0.8" opacity="0.8"/>
<g stroke="#3D403D" stroke-width="4.6" fill="none" stroke-linecap="round" stroke-linejoin="round">
<path d="M234.1 509.2 C225 513 205 524 193.5 532 C198 540 206 552 213.5 564 L215.5 576"/>
<path d="M455.1 506.6 C462 514 475 518 489.8 522 C489 536 481 549 473.8 565.8"/>
<path d="M319.1 587.3 C330 590 345 590.5 360.7 588.9 C370 587.5 380 583 387.4 579.4" stroke-width="6"/>
<path d="M332 592 C336 597 343 600 352 601.5 C360 602.5 366 601 369 597 C371 593 371 588 370.9 585" stroke-width="4.3"/>
<path d="M348.9 544 L348.3 556" stroke-width="6"/>
</g>
<g fill="#3D403D">
<circle cx="301.5" cy="537.5" r="4.6"/>
<circle cx="307.3" cy="534.3" r="4.8"/>
<circle cx="313.6" cy="535.6" r="4.0"/>
<circle cx="305" cy="538" r="4"/>
<circle cx="376.6" cy="536.2" r="3.8"/>
<circle cx="384.3" cy="530.9" r="4.6"/>
<circle cx="382.5" cy="535" r="4.2"/>
<circle cx="341" cy="555.5" r="2.8"/>
<ellipse cx="348" cy="561" rx="10.8" ry="7.4"/>
</g>
<path d="M148.4 559.5 C150.4 557.7 158 552.5 160.6 548.6 C163.2 544.8 164.6 540.9 164.2 536.4 C163.8 531.9 161.5 525.9 158.1 521.9 C154.7 517.9 150.1 514.6 143.6 512.1 C137.1 509.6 127.4 507.4 119.3 506.8 C111.2 506.2 105.1 506.4 95 508.5 C84.9 510.6 68.7 514.8 58.6 519.4 C48.5 524 39.6 530.3 34.3 536.4 C29 542.5 27.4 550.6 27 555.9 C26.6 561.2 28.7 564.4 31.9 568 C35.1 571.6 38.7 575.1 46.4 577.7 C54.1 580.3 67.9 583.4 78 583.8 C88.1 584.2 98.6 582 107.1 580.1 C115.6 578.2 125.3 573.7 129 572.4 L166.6 579.6 L148.4 559.5Z" fill="#fff" stroke="#444" stroke-width="1.1" stroke-linejoin="miter"/>
<ellipse cx="573" cy="439" rx="95" ry="74" fill="#fff" stroke="#000" stroke-width="2"/>
<path d="M507 388 L640.5 491.4 M640.5 388 L507 491.4" stroke="#000" stroke-width="2"/>
<g font-family="Liberation Sans, sans-serif">
<text x="51.6" y="541.3" font-size="19.0" textLength="86.72" lengthAdjust="spacingAndGlyphs" fill="#111" stroke="#000" stroke-width="0.08">Excessive</text>
<text x="69.1" y="563.6" font-size="19.0" textLength="58.12" lengthAdjust="spacingAndGlyphs" fill="#111" stroke="#000" stroke-width="0.08">Talking</text>
<text x="537" y="390.1" font-size="19.0" textLength="77.51" lengthAdjust="spacingAndGlyphs" fill="#111" stroke="#000" stroke-width="0.08">Selective</text>
<text x="484.1" y="444.6" font-size="19.0" textLength="76.82" lengthAdjust="spacingAndGlyphs" fill="#111" stroke="#000" stroke-width="0.08">Listening</text>
<text x="595.4" y="444.6" font-size="19.0" textLength="51.85" lengthAdjust="spacingAndGlyphs" fill="#111" stroke="#000" stroke-width="0.08">Filters</text>
<text x="535" y="499.4" font-size="19.0" textLength="75.47" lengthAdjust="spacingAndGlyphs" fill="#111" stroke="#000" stroke-width="0.08">Listening</text>
<text x="467.1" y="716.9" font-size="19.0" textLength="216.50" lengthAdjust="spacingAndGlyphs" fill="#111" stroke="#000" stroke-width="0.08">Improper Body Language</text>
</g>
</svg>
</body></html>
